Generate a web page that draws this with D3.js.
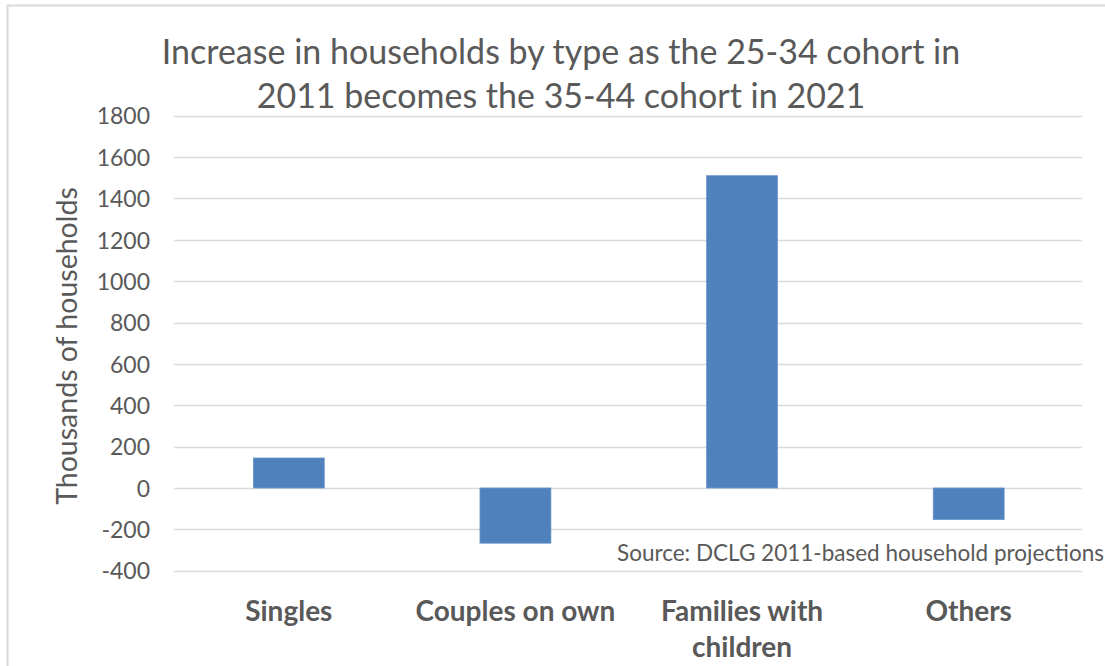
<!DOCTYPE html>
<html>
<head>
<meta charset="utf-8">
<script src="https://cdn.jsdelivr.net/npm/d3@7"></script>
<style>
  html, body { margin: 0; padding: 0; background: #fff; }
  svg { display: block; }
  text { font-family: Lato, "Open Sans", sans-serif; fill: #595959; }
</style>
</head>
<body>
<svg id="chart" width="1105" height="666"></svg>
<script>
// Household change by type, thousands (2011 -> 2021, 25-34 cohort ageing to 35-44)
const categories = [["Singles"], ["Couples on own"], ["Families with", "children"], ["Others"]];
const values = [145, -267, 1510, -153];
const yTicks = [-400, -200, 0, 200, 400, 600, 800, 1000, 1200, 1400, 1600, 1800];
const titleLines = ["Increase in households by type as the 25-34 cohort in", "2011 becomes the 35-44 cohort in 2021"];
const yTitle = "Thousands of households";
const sourceNote = "Source: DCLG 2011-based household projections";

const svg = d3.select("#chart");
const plot = { left: 175.5, right: 1082, top: 115.7, bottom: 570.7 };

// Outer chart frame
svg.append("path")
  .attr("d", "M7.5,666 V5.5 H1105")
  .attr("fill", "none")
  .attr("stroke", "#d9d9d9")
  .attr("stroke-width", 2);

const x = d3.scaleBand()
  .domain(d3.range(categories.length))
  .range([plot.left, plot.right])
  .paddingInner(0.687)
  .paddingOuter(0.3435);

const y = d3.scaleLinear()
  .domain([-400, 1800])
  .range([plot.bottom, plot.top]);

// Gridlines
svg.append("g")
  .selectAll("line")
  .data(yTicks)
  .join("line")
  .attr("x1", 174)
  .attr("x2", plot.right)
  .attr("y1", d => Math.round(y(d)) + 0.5)
  .attr("y2", d => Math.round(y(d)) + 0.5)
  .attr("stroke", "#d9d9d9")
  .attr("stroke-width", 1.3);

// Y axis labels (plain hyphen for negatives)
const yAxis = d3.axisLeft(y).tickValues(yTicks).tickSize(0).tickPadding(0).tickFormat(d => String(d));
const yg = svg.append("g")
  .attr("transform", `translate(150,0)`)
  .call(yAxis);
yg.select(".domain").remove();
yg.selectAll("text")
  .attr("font-size", 23)
  .attr("font-family", "Lato, sans-serif")
  .attr("fill", "#595959")
  .attr("dy", "0.36em");

// Bars
svg.append("g")
  .selectAll("rect")
  .data(values)
  .join("rect")
  .attr("x", (d, i) => x(i))
  .attr("width", x.bandwidth())
  .attr("y", d => y(Math.max(0, d)))
  .attr("height", d => Math.abs(y(d) - y(0)))
  .attr("fill", "#4f81bd")
  .attr("stroke", "#6c97cc")
  .attr("stroke-width", 0.8);

// Category labels
const catG = svg.append("g");
categories.forEach((lines, i) => {
  const t = catG.append("text")
    .attr("x", x(i) + x.bandwidth() / 2)
    .attr("y", 621)
    .attr("text-anchor", "middle")
    .attr("font-size", 28)
    .attr("font-weight", "bold");
  lines.forEach((ln, j) => {
    t.append("tspan")
      .attr("x", x(i) + x.bandwidth() / 2)
      .attr("dy", j === 0 ? 0 : 36)
      .text(ln);
  });
});

// Title
const title = svg.append("text")
  .attr("text-anchor", "middle")
  .attr("font-size", 34);
titleLines.forEach((ln, j) => {
  title.append("tspan")
    .attr("x", 561)
    .attr("y", 64 + j * 44)
    .text(ln);
});

// Y axis title
svg.append("text")
  .attr("transform", "translate(77,346) rotate(-90)")
  .attr("text-anchor", "middle")
  .attr("font-size", 28.5)
  .text(yTitle);

// Source note
svg.append("text")
  .attr("x", 617)
  .attr("y", 561)
  .attr("font-size", 22.5)
  .text(sourceNote);
</script>
</body>
</html>
